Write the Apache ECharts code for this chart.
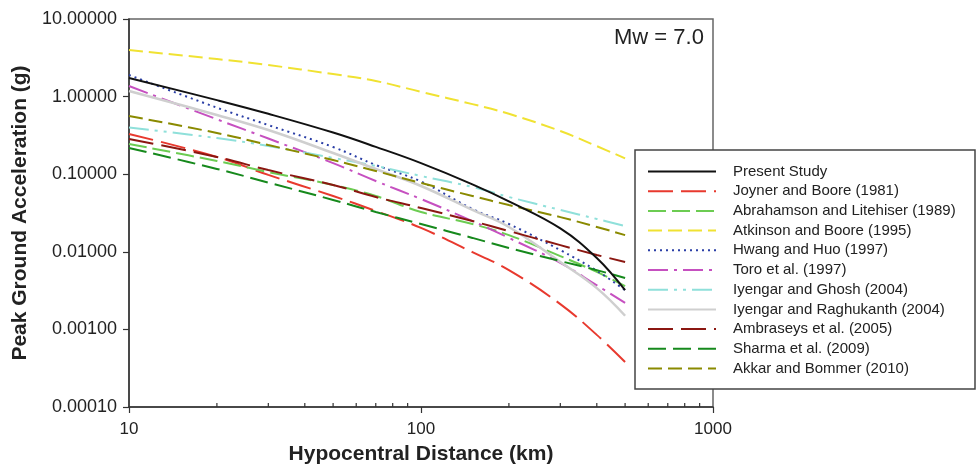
<!DOCTYPE html>
<html>
<head>
<meta charset="utf-8">
<script src="https://cdn.jsdelivr.net/npm/echarts@6/dist/echarts.min.js"></script>
<style>
  html, body { margin: 0; padding: 0; background: #fff; }
  #chart { width: 976px; height: 471px; }
</style>
</head>
<body>
<div id="chart"></div>
<script>
// distances (km) at which the curves were read
const distances = [10, 20, 30, 50, 70, 100, 150, 200, 300, 400, 500];

// PGA (g) for each model
const presentStudy = [1.74, 0.9, 0.6, 0.344, 0.225, 0.139, 0.0741, 0.0447, 0.02, 0.0083, 0.0032];
const joynerBoore = [0.33, 0.167, 0.098, 0.0524, 0.0336, 0.0203, 0.0099, 0.00582, 0.00212, 0.00085, 0.00038];
const abrahamson = [0.245, 0.148, 0.1067, 0.0726, 0.0524, 0.0326, 0.0228, 0.0164, 0.0088, 0.0055, 0.0036];
const atkinsonBoore = [3.98, 3.05, 2.55, 1.95, 1.59, 1.15, 0.8, 0.6, 0.36, 0.23, 0.16];
const hwangHuo = [1.9, 0.72, 0.43, 0.224, 0.1315, 0.0805, 0.0356, 0.0228, 0.0105, 0.0057, 0.0032];
const toro = [1.37, 0.51, 0.288, 0.139, 0.0817, 0.0479, 0.0249, 0.0151, 0.0072, 0.0037, 0.0022];
const iyengarGhosh = [0.4, 0.292, 0.231, 0.162, 0.1276, 0.0948, 0.0684, 0.0508, 0.0346, 0.0265, 0.0215];
const iyengarRaghu = [1.18, 0.58, 0.371, 0.1875, 0.1167, 0.0705, 0.0346, 0.0209, 0.0074, 0.0034, 0.0015];
const ambraseys = [0.284, 0.167, 0.113, 0.0726, 0.0508, 0.0367, 0.0249, 0.0185, 0.0122, 0.0091, 0.0074];
const sharma = [0.218, 0.117, 0.078, 0.0466, 0.0326, 0.0228, 0.0151, 0.0112, 0.0076, 0.0058, 0.0046];
const akkarBommer = [0.562, 0.34, 0.238, 0.152, 0.11, 0.077, 0.0524, 0.04, 0.028, 0.0209, 0.0164];

const minorTicks = [20, 30, 40, 50, 60, 70, 80, 90, 200, 300, 400, 500, 600, 700, 800, 900];

const names = [
  "Present Study",
  "Joyner and Boore (1981)",
  "Abrahamson and Litehiser (1989)",
  "Atkinson and Boore (1995)",
  "Hwang and Huo (1997)",
  "Toro et al. (1997)",
  "Iyengar and Ghosh (2004)",
  "Iyengar and Raghukanth (2004)",
  "Ambraseys et al. (2005)",
  "Sharma et al. (2009)",
  "Akkar and Bommer (2010)"
];
const values = [presentStudy, joynerBoore, abrahamson, atkinsonBoore, hwangHuo, toro,
  iyengarGhosh, iyengarRaghu, ambraseys, sharma, akkarBommer];
const colors = ["#111111", "#e8392e", "#6ccc52", "#f0e232", "#2b3fa6", "#c650c0",
  "#8fe0da", "#cfcfcf", "#8b1711", "#16891c", "#8a8a00"];
const dashes = ["solid", [25, 8], [18, 6], [14, 6], [2, 4], [20, 6, 3, 6],
  [20, 6, 3, 6, 3, 6], "solid", [25, 8], [18, 7], [14, 6]];

const font = "Liberation Sans";
const myChart = echarts.init(document.getElementById("chart"));

var seriesData = [];
for (let i = 0; i < names.length; i++) {
  seriesData.push({
    name: names[i],
    type: "line",
    symbol: "none",
    smooth: 0.4,
    z: i === 0 ? 5 : 3,
    lineStyle: {
      color: colors[i],
      width: i === 7 ? 2.5 : 2,
      type: dashes[i]
    },
    itemStyle: { color: colors[i] },
    data: distances.map((d, k) => [d, values[i][k]])
  });
}
// minor ticks of the x axis, drawn inside the frame
seriesData.push({
  type: "custom",
  silent: true,
  data: minorTicks.map((v) => [v, 0.0001]),
  renderItem: function (params, api) {
    const p = api.coord([api.value(0), api.value(1)]);
    return {
      type: "line",
      shape: { x1: p[0], y1: p[1], x2: p[0], y2: p[1] - 4 },
      style: { stroke: "#333", lineWidth: 1.2 }
    };
  }
});

const options = {
  backgroundColor: "#fff",
  animation: false,
  grid: {
    left: 129,
    right: 263,
    top: 19,
    bottom: 64,
    show: true,
    borderColor: "#666",
    borderWidth: 1.5,
    backgroundColor: "transparent"
  },
  xAxis: {
    type: "log",
    logBase: 10,
    min: 10,
    max: 1000,
    name: "Hypocentral Distance (km)",
    nameLocation: "middle",
    nameGap: 37,
    nameTextStyle: { fontFamily: font, fontSize: 21, fontWeight: "bold", color: "#222" },
    axisLine: { lineStyle: { color: "#333", width: 1.5 } },
    axisTick: { show: true, length: 6, inside: false, lineStyle: { color: "#333", width: 1.2 } },
    axisLabel: {
      fontFamily: font,
      fontSize: 17,
      color: "#222",
      margin: 14,
      formatter: (v) => String(Math.round(v))
    },
    splitLine: { show: false }
  },
  yAxis: {
    type: "log",
    logBase: 10,
    min: 0.0001,
    max: 10,
    name: "Peak Ground Acceleration (g)",
    nameLocation: "middle",
    nameGap: 96,
    nameTextStyle: { fontFamily: font, fontSize: 21, fontWeight: "bold", color: "#222" },
    axisLine: { lineStyle: { color: "#333", width: 1.5 } },
    axisTick: { show: true, length: 6, lineStyle: { color: "#333", width: 1.2 } },
    axisLabel: {
      fontFamily: font,
      fontSize: 18,
      color: "#222",
      margin: 12,
      formatter: (v) => v.toFixed(5)
    },
    splitLine: { show: false }
  },
  legend: {
    data: names,
    orient: "vertical",
    left: 647,
    top: 164,
    padding: 0,
    itemWidth: 68,
    itemHeight: 14,
    itemGap: 4.7,
    z: 60,
    itemStyle: { opacity: 0 },
    textStyle: {
      fontFamily: font,
      fontSize: 15,
      lineHeight: 14,
      color: "#222",
      padding: [0, 0, 0, 12]
    }
  },
  graphic: [
    {
      type: "rect",
      z: 50,
      shape: { x: 635, y: 150, width: 340, height: 239 },
      style: { fill: "#fff", stroke: "#444", lineWidth: 1.5 }
    },
    {
      type: "text",
      z: 50,
      left: 614,
      top: 27,
      style: { text: "Mw = 7.0", font: "22px Liberation Sans", fill: "#222" }
    }
  ],
  series: seriesData
};
myChart.setOption(options);
</script>
</body>
</html>
